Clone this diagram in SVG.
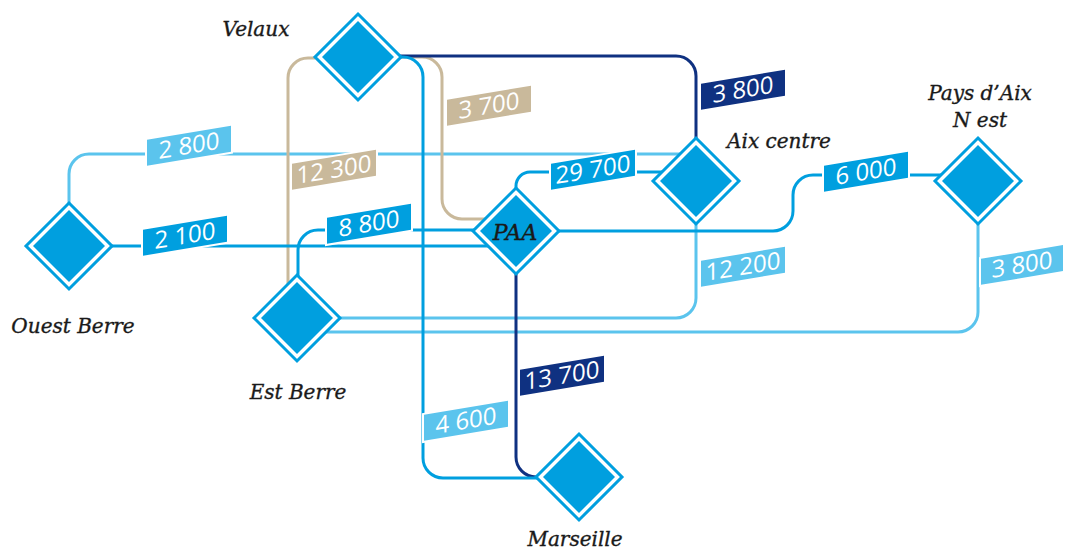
<svg xmlns="http://www.w3.org/2000/svg" xmlns:xlink="http://www.w3.org/1999/xlink" width="1065" height="552" viewBox="0 0 1065 552">
<defs>
<style>
.ln{fill:none;stroke-width:3}
.lt{stroke:#5BC4ED}
.md{stroke:#009FDF}
.nv{stroke:#0F3181}
.bg{stroke:#C9B99B}
.outer{fill:#fff;stroke:#009FDF;stroke-width:3}
.inner{fill:#009FDF}
.box{stroke:#fff;stroke-width:2}
.bl{fill:#5BC4ED}.bm{fill:#009FDF}.bn{fill:#0F3181}.bb{fill:#C9B99B}
.num{font-family:"Open Sans",sans-serif;font-size:24px;fill:#fff;text-anchor:middle}
.name{font-family:"DejaVu Serif",serif;font-style:italic;font-size:20px;fill:#1a1a1a;stroke:#1a1a1a;stroke-width:0.35;text-anchor:middle}
</style>
<g id="dia">
<polygon class="outer" points="0,-43 43,0 0,43 -43,0"/>
<polygon class="inner" points="0,-36 36,0 0,36 -36,0"/>
</g>
</defs>
<rect width="1065" height="552" fill="#fff"/>
<g id="connectors">
<path class="ln lt" d="M69,210 V174 A20,20 0 0 1 89,154 H684"/>
<path class="ln lt" d="M696,222 V298 A20,20 0 0 1 676,318 H330"/>
<path class="ln lt" d="M978,222 V312 A20,20 0 0 1 958,332 H320"/>
<path class="ln bg" d="M315,58 H308 A20,20 0 0 0 288,78 V295"/>
<path class="ln bg" d="M398,57 H422 A20,20 0 0 1 442,77 V199 A20,20 0 0 0 462,219 H492"/>
<path class="ln nv" d="M398,56 H676 A20,20 0 0 1 696,76 V145"/>
<path class="ln nv" d="M516,268 V457 A20,20 0 0 0 536,477 H548"/>
<path class="ln md" d="M100,246 H490"/>
<path class="ln md" d="M298,280 V250 A20,20 0 0 1 318,230 H485"/>
<path class="ln md" d="M516,195 V186 A14,14 0 0 1 530,172 H672"/>
<path class="ln md" d="M548,231 H773 A20,20 0 0 0 793,211 V195 A20,20 0 0 1 813,175 H945"/>
<path class="ln md" d="M398,57 H403 A20,20 0 0 1 423,77 V458 A20,20 0 0 0 443,478 H548"/>
</g>
<g id="labels">
<g transform="translate(146,139) skewY(-9.5)"><rect class="box bl" width="86" height="28"/><text class="num" x="43" y="22">2 800</text></g>
<g transform="translate(142,229) skewY(-9.5)"><rect class="box bm" width="86" height="28"/><text class="num" x="43" y="22">2 100</text></g>
<g transform="translate(291,163) skewY(-9.5)"><rect class="box bb" width="86" height="28"/><text class="num" x="43" y="22">12 300</text></g>
<g transform="translate(446,99) skewY(-9.5)"><rect class="box bb" width="86" height="28"/><text class="num" x="43" y="22">3 700</text></g>
<g transform="translate(326,217) skewY(-9.5)"><rect class="box bm" width="86" height="28"/><text class="num" x="43" y="22">8 800</text></g>
<g transform="translate(550,163) skewY(-9.5)"><rect class="box bm" width="86" height="28"/><text class="num" x="43" y="22">29 700</text></g>
<g transform="translate(700,83) skewY(-9.5)"><rect class="box bn" width="86" height="28"/><text class="num" x="43" y="22">3 800</text></g>
<g transform="translate(823,165) skewY(-9.5)"><rect class="box bm" width="86" height="28"/><text class="num" x="43" y="22">6 000</text></g>
<g transform="translate(700,260) skewY(-9.5)"><rect class="box bl" width="86" height="28"/><text class="num" x="43" y="22">12 200</text></g>
<g transform="translate(980,258) skewY(-9.5)"><rect class="box bl" width="84" height="28"/><text class="num" x="42" y="22">3 800</text></g>
<g transform="translate(519,369) skewY(-9.5)"><rect class="box bn" width="86" height="28"/><text class="num" x="43" y="22">13 700</text></g>
<g transform="translate(423,414) skewY(-9.5)"><rect class="box bl" width="86" height="28"/><text class="num" x="43" y="22">4 600</text></g>
</g>
<g id="velaux"><use xlink:href="#dia" x="358" y="57"/><text class="name" x="256" y="36">Velaux</text></g>
<g id="ouest-berre"><use xlink:href="#dia" x="69" y="246"/><text class="name" x="73" y="333">Ouest Berre</text></g>
<g id="est-berre"><use xlink:href="#dia" x="297" y="318"/><text class="name" x="298" y="399">Est Berre</text></g>
<g id="paa"><use xlink:href="#dia" x="516" y="231"/><text class="name" x="515" y="240" style="font-size:22px">PAA</text></g>
<g id="aix-centre"><use xlink:href="#dia" x="696" y="181"/><text class="name" x="779" y="148">Aix centre</text></g>
<g id="pays-aix"><use xlink:href="#dia" x="978" y="181"/><text class="name" x="980" y="100">Pays d’Aix</text><text class="name" x="980" y="127">N est</text></g>
<g id="marseille"><use xlink:href="#dia" x="579" y="477"/><text class="name" x="575" y="546">Marseille</text></g>
</svg>
